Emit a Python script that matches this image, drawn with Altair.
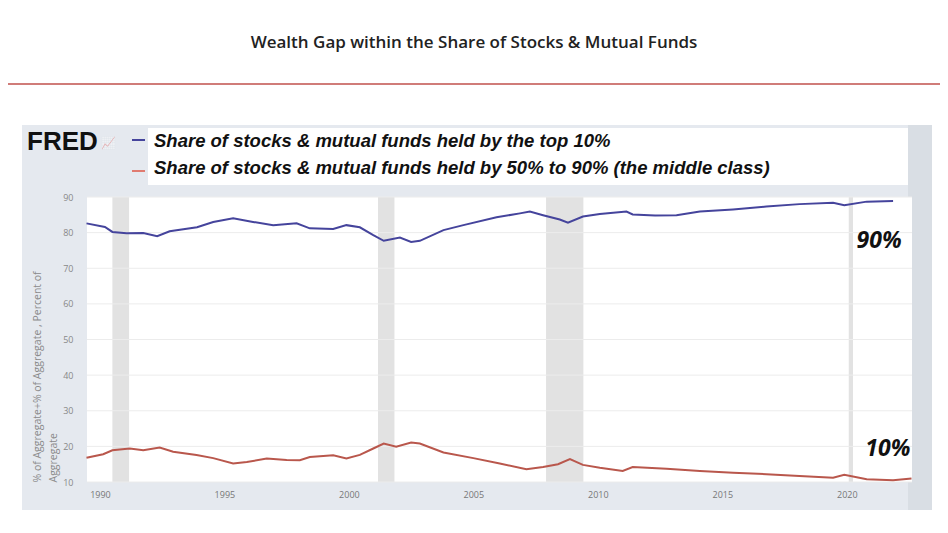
import altair as alt
import pandas as pd

# ---- data ----
top_years = [1989.46, 1990.2, 1990.5, 1991.07, 1991.74, 1992.3, 1992.8, 1993.9, 1994.55, 1995.35,
             1996.15, 1996.96, 1997.9, 1998.43, 1999.37, 1999.9, 2000.44, 2000.98, 2001.4, 2002.05,
             2002.5, 2002.85, 2003.8, 2004.6, 2005.93, 2006.87, 2007.27, 2007.8, 2008.47, 2008.8,
             2009.4, 2010.08, 2011.15, 2011.4, 2012.3, 2013.16, 2014.1, 2015.43, 2016.77, 2018.1,
             2019.45, 2019.9, 2020.8, 2021.86]
top_vals = [82.6, 81.6, 80.2, 79.8, 79.9, 79.0, 80.4, 81.5, 83.0, 84.0,
            83.0, 82.1, 82.6, 81.2, 81.0, 82.1, 81.5, 79.3, 77.7, 78.6,
            77.4, 77.7, 80.7, 82.1, 84.3, 85.4, 85.9, 84.9, 83.7, 82.8,
            84.5, 85.2, 85.9, 85.1, 84.8, 84.9, 85.9, 86.5, 87.3, 88.0,
            88.4, 87.7, 88.7, 88.9]

mid_years = [1989.46, 1990.13, 1990.5, 1991.2, 1991.74, 1992.4, 1992.94, 1993.88, 1994.55, 1995.35,
             1995.9, 1996.7, 1997.5, 1998.03, 1998.43, 1999.37, 1999.9, 2000.44, 2000.98, 2001.4,
             2001.9, 2002.5, 2002.85, 2003.8, 2005.0, 2006.06, 2007.13, 2007.8, 2008.4, 2008.88,
             2009.4, 2010.08, 2011.0, 2011.4, 2012.76, 2014.1, 2015.43, 2016.77, 2018.1, 2019.45,
             2019.9, 2020.8, 2021.86, 2022.6]
mid_vals = [16.8, 17.8, 18.9, 19.4, 18.9, 19.7, 18.5, 17.6, 16.7, 15.2,
            15.6, 16.6, 16.2, 16.1, 17.0, 17.5, 16.6, 17.6, 19.4, 20.8,
            19.9, 21.1, 20.8, 18.3, 16.7, 15.2, 13.6, 14.2, 15.0, 16.4,
            14.8, 14.0, 13.1, 14.2, 13.7, 13.1, 12.6, 12.2, 11.7, 11.2,
            12.0, 10.8, 10.5, 11.0]

rec_start = [1990.5, 2001.17, 2007.92, 2020.08]
rec_end = [1991.17, 2001.83, 2009.42, 2020.25]

labels = ["90%", "10%"]
label_x = [2021.3, 2021.65]
label_y = [77.6, 19.4]

legend_names = ["Share of stocks & mutual funds held by the top 10%",
                "Share of stocks & mutual funds held by 50% to 90% (the middle class)"]
title_text = "Wealth Gap within the Share of Stocks & Mutual Funds"
y_title = ["% of Aggregate+% of Aggregate , Percent of", "Aggregate"]

x_ticks = [1990, 1995, 2000, 2005, 2010, 2015, 2020]
y_ticks = [10, 20, 30, 40, 50, 60, 70, 80, 90]

BLUE = "#45449c"
RED = "#b9574c"

df_top = pd.DataFrame({"year": top_years, "value": top_vals})
df_mid = pd.DataFrame({"year": mid_years, "value": mid_vals})
df_rec = pd.DataFrame({"start": rec_start, "end": rec_end})
df_lab = pd.DataFrame({"label": labels, "year": label_x, "value": label_y})

xscale = alt.Scale(domain=[1989.48, 2022.62], nice=False, zero=False)
yscale = alt.Scale(domain=[10, 90], nice=False, zero=False)

x_axis = alt.Axis(values=x_ticks, format="d", grid=False, domain=False, ticks=False,
                  labelColor="#777777", labelFont="Open Sans", labelFontSize=9,
                  labelPadding=8, title=None, zindex=2)
y_axis = alt.Axis(values=y_ticks, grid=False, domain=False, ticks=False,
                  labelOverlap=False, labelColor="#888888", labelFont="Open Sans",
                  labelFontSize=9, labelPadding=14, title=y_title,
                  titleColor="#8a8a8a", titleFont="Open Sans", titleFontSize=10.5,
                  titleFontWeight="normal", titleAnchor="start", titleAlign="left",
                  titlePadding=4, titleLineHeight=16, zindex=2)

one = pd.DataFrame({"a": [0]})

# decorative panel (FRED frame)
panel = alt.Chart(one).mark_rect(color="#e5e9ef").encode(
    x=alt.value(-65), x2=alt.value(845), y=alt.value(-72), y2=alt.value(313))
panel_edge = alt.Chart(one).mark_rect(color="#d9dee4").encode(
    x=alt.value(821), x2=alt.value(845), y=alt.value(-72), y2=alt.value(313))
legend_box = alt.Chart(one).mark_rect(color="#ffffff").encode(
    x=alt.value(61), x2=alt.value(821), y=alt.value(-69), y2=alt.value(-12))
plot_bg = alt.Chart(one).mark_rect(color="#ffffff").encode(
    x=alt.value(0), x2=alt.value(825), y=alt.value(0), y2=alt.value(285))

rec = alt.Chart(df_rec).mark_rect(color="#e2e2e2").encode(
    x=alt.X("start:Q", scale=xscale, axis=x_axis),
    x2="end:Q",
    y=alt.value(0), y2=alt.value(285))

grid = alt.Chart(pd.DataFrame({"v": y_ticks})).mark_rule(color="#ececec", strokeWidth=1).encode(
    y=alt.Y("v:Q", scale=yscale, axis=y_axis),
    x=alt.value(0), x2=alt.value(825))

line_top = alt.Chart(df_top).mark_line(color=BLUE, strokeWidth=2).encode(
    x=alt.X("year:Q", scale=xscale, axis=x_axis), y=alt.Y("value:Q", scale=yscale, axis=y_axis))
line_mid = alt.Chart(df_mid).mark_line(color=RED, strokeWidth=2).encode(
    x=alt.X("year:Q", scale=xscale, axis=x_axis), y=alt.Y("value:Q", scale=yscale, axis=y_axis))

ann = alt.Chart(df_lab).mark_text(font="Open Sans", fontSize=23, fontWeight="bold",
                                  fontStyle="italic", color="#111111").encode(
    x=alt.X("year:Q", scale=xscale, axis=x_axis), y=alt.Y("value:Q", scale=yscale, axis=y_axis),
    text="label:N")

title = alt.Chart(one).mark_text(text=title_text, font="Open Sans", fontSize=17,
                                 fontWeight=600, color="#222222", align="center",
                                 baseline="middle").encode(
    x=alt.value(387), y=alt.value(-154))
red_rule = alt.Chart(one).mark_rule(color="#c0504d", strokeWidth=1.5).encode(
    x=alt.value(-87), x2=alt.value(861), y=alt.value(-113))

fred = alt.Chart(one).mark_text(text="FRED", font="Liberation Sans", fontSize=26,
                                fontWeight="bold", color="#111111", align="left",
                                baseline="middle").encode(
    x=alt.value(-60), y=alt.value(-55))
fred_icon = alt.Chart(one).mark_text(text="📈", fontSize=12, opacity=0.35, align="left",
                                     baseline="middle").encode(
    x=alt.value(14), y=alt.value(-54))

dash_blue = alt.Chart(one).mark_rule(color=BLUE, strokeWidth=2).encode(
    x=alt.value(45), x2=alt.value(58), y=alt.value(-57))
dash_red = alt.Chart(one).mark_rule(color="#e07b70", strokeWidth=2).encode(
    x=alt.value(45), x2=alt.value(58), y=alt.value(-26))
leg1 = alt.Chart(one).mark_text(text=legend_names[0], font="Liberation Sans", fontSize=18.5,
                                fontWeight="bold", fontStyle="italic", color="#111111",
                                align="left", baseline="middle").encode(
    x=alt.value(67), y=alt.value(-56))
leg2 = alt.Chart(one).mark_text(text=legend_names[1], font="Liberation Sans", fontSize=18.5,
                                fontWeight="bold", fontStyle="italic", color="#111111",
                                align="left", baseline="middle").encode(
    x=alt.value(67), y=alt.value(-29))

chart = alt.layer(
    panel, panel_edge, legend_box, plot_bg, rec, grid, line_top, line_mid, ann,
    title, red_rule, fred, fred_icon, dash_blue, dash_red, leg1, leg2
).properties(
    width=825, height=285,
    autosize=alt.AutoSizeParams(type="none"),
    padding={"left": 79, "top": 189, "right": 28, "bottom": 43},
    background="#ffffff",
).configure_view(stroke=None)

chart.save("out.html", embed_options={"renderer": "svg", "actions": False})
